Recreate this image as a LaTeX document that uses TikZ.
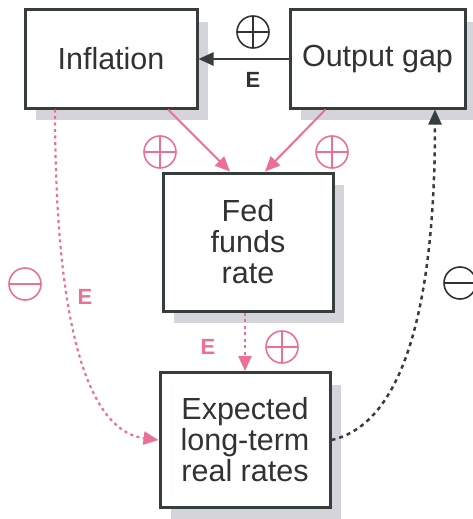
\documentclass[tikz,border=0pt]{standalone}
\usepackage{fontspec}
\setmainfont{Liberation Sans}
\usetikzlibrary{shadows,arrows.meta}
\definecolor{boxgray}{RGB}{55,60,60}
\definecolor{shadegray}{RGB}{212,212,218}
\definecolor{fedpink}{RGB}{236,112,150}
\definecolor{txtgray}{RGB}{50,50,50}
\tikzset{
  varbox/.style={draw=boxgray, line width=3pt, fill=white, text=txtgray,
    align=center, inner sep=0pt, font=\fontsize{30.5}{31}\selectfont,
    drop shadow={shadow xshift=11pt, shadow yshift=-12pt, fill=shadegray, opacity=1}},
  signcirc/.style={circle, draw, line width=1.6pt, minimum size=32pt, inner sep=0pt},
  pluscirc/.style={signcirc, path picture={
    \draw[line width=1.6pt] (path picture bounding box.north) -- (path picture bounding box.south)
      (path picture bounding box.west) -- (path picture bounding box.east);}},
  minuscirc/.style={signcirc, path picture={
    \draw[line width=1.6pt] (path picture bounding box.west) -- (path picture bounding box.east);}},
  elabel/.style={font=\fontsize{22}{22}\selectfont\bfseries},
  pinkdash/.style={line width=2.2pt, dash pattern=on 3pt off 3.5pt},
  blackdash/.style={line width=2.5pt, dash pattern=on 4pt off 4pt}
}
\begin{document}
\begin{tikzpicture}[x=1pt, y=-1pt, >={Triangle[length=15pt, width=13pt]}]
    \useasboundingbox (0,0) rectangle (473,519);
    % the four boxes
    \node[varbox, minimum width=172pt, minimum height=98pt] (infl) at (111,59) {Inflation};
    \node[varbox, minimum width=175pt, minimum height=98pt] (gap) at (377.5,59) {Output gap};
    \node[varbox, minimum width=170pt, minimum height=138pt] (fed) at (248,242) {Fed\\funds\\rate};
    \node[varbox, minimum width=170pt, minimum height=135pt] (expc) at (245,440) {Expected\\long-term\\real rates};
    % output gap -> inflation
    \draw[->, boxgray, line width=2.5pt] (gap.west) -- (infl.east);
    \node[pluscirc, txtgray] (sgi) at (253,32) {};
    \node[elabel, txtgray] (egi) at (253,80) {E};
    % inflation and output gap -> fed funds rate
    \draw[->, fedpink, line width=2pt] ([xshift=57pt]infl.south) -- ([xshift=-18pt]fed.north);
    \draw[->, fedpink, line width=2pt] ([xshift=-52pt]gap.south) -- ([xshift=17pt]fed.north);
    \node[pluscirc, fedpink] (sif) at (160,152) {};
    \node[pluscirc, fedpink] (sgf) at (332,152) {};
    % fed funds rate -> expected real rates
    \draw[->, fedpink, pinkdash] (fed.south -| expc.north) -- (expc.north);
    \node[elabel, fedpink] (efe) at (208,347) {E};
    \node[pluscirc, fedpink] (sfe) at (282,347) {};
    % inflation -> expected real rates
    \draw[->, fedpink, pinkdash] ([xshift=-56pt]infl.south)
      .. controls (55,350) and (95,432) .. (expc.west);
    \node[minuscirc, fedpink] (sie) at (25,284) {};
    \node[elabel, fedpink] (eie) at (85,297) {E};
    % expected real rates -> output gap
    \draw[->, boxgray, blackdash] (expc.east)
      .. controls (420,420) and (435,250) .. ([xshift=57.5pt]gap.south);
    \node[minuscirc, txtgray] (seg) at (460,283) {};
\end{tikzpicture}
\end{document}
